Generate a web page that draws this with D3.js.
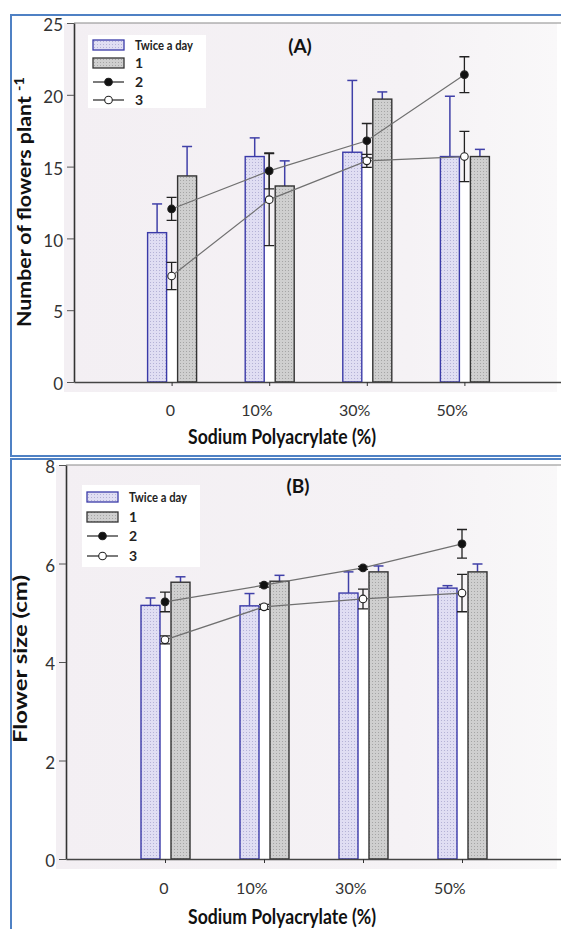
<!DOCTYPE html>
<html>
<head>
<meta charset="utf-8">
<script src="https://cdn.jsdelivr.net/npm/d3@7"></script>
<style>
body { margin: 0; background: #fff; }
svg { display: block; font-family: Lato, "Open Sans", sans-serif; }
</style>
</head>
<body>
<svg id="chart" width="561" height="929"></svg>
<script>
const categories = ["0", "10%", "30%", "50%"];
const legendNames = ["Twice a day", "1", "2", "3"];

// (A) number of flowers per plant
const flowersTwice = [10.4, 15.7, 16.0, 15.7];
const flowersTwiceErr = [2.0, 1.3, 5.0, 4.2];
const flowersOne = [14.35, 13.65, 19.7, 15.7];
const flowersOneErr = [2.05, 1.75, 0.5, 0.5];
const flowersTwo = [12.05, 14.7, 16.8, 21.4];
const flowersTwoErr = [0.8, 1.25, 1.2, 1.25];
const flowersThree = [7.38, 12.7, 15.4, 15.7];
const flowersThreeErr = [0.95, 3.2, 0.45, 1.75];
const flowersTicks = [0, 5, 10, 15, 20, 25];

// (B) flower size (cm)
const sizeTwice = [5.15, 5.14, 5.4, 5.5];
const sizeTwiceErr = [0.15, 0.25, 0.43, 0.05];
const sizeOne = [5.62, 5.64, 5.83, 5.83];
const sizeOneErr = [0.11, 0.12, 0.12, 0.16];
const sizeTwo = [5.22, 5.56, 5.91, 6.4];
const sizeTwoErr = [0.2, 0.04, 0.03, 0.29];
const sizeThree = [4.45, 5.12, 5.28, 5.4];
const sizeThreeErr = [0.08, 0.05, 0.2, 0.38];
const sizeTicks = [0, 2, 4, 6, 8];

const svg = d3.select("#chart");
const defs = svg.append("defs");

function dotPattern(id, base, dot) {
    const p = defs.append("pattern").attr("id", id)
        .attr("width", 3).attr("height", 3)
        .attr("patternUnits", "userSpaceOnUse");
    p.append("rect").attr("width", 3).attr("height", 3).attr("fill", base);
    p.append("rect").attr("width", 1).attr("height", 1).attr("fill", dot);
}
dotPattern("dotBlue", "#e0def3", "#b4b2d6");
dotPattern("dotGrey", "#cfcfcf", "#a5a5a5");

const bgGrad = defs.append("linearGradient").attr("id", "bgGrad");
bgGrad.append("stop").attr("offset", "0%").attr("stop-color", "#f3eff3");
bgGrad.append("stop").attr("offset", "70%").attr("stop-color", "#f5f2f5");
bgGrad.append("stop").attr("offset", "100%").attr("stop-color", "#f9f8f9");

const blueBorder = "#4f81c4";

function drawPanel(p) {
    const g = svg.append("g");

    // panel frame
    g.append("rect")
        .attr("x", 11).attr("y", p.boxTop)
        .attr("width", 570).attr("height", p.boxBottom - p.boxTop)
        .attr("fill", "#fff").attr("stroke", blueBorder).attr("stroke-width", 2);

    const x = d3.scaleLinear().domain([0, 5]).range([p.left, p.right]);
    const y = d3.scaleLinear().domain(p.yDomain).range([p.bottom, p.top]);

    // plot background
    g.append("rect")
        .attr("x", p.left - 10).attr("y", p.top)
        .attr("width", 557 - p.left + 10).attr("height", p.bottom - p.top + 10)
        .attr("fill", "url(#bgGrad)");

    // frame line at top
    g.append("line")
        .attr("x1", p.left).attr("x2", 561)
        .attr("y1", p.top).attr("y2", p.top)
        .attr("stroke", "#8a8a8a").attr("stroke-width", 1.2);

    const idx = d3.range(categories.length);
    const cx = i => x(i + 1);

    // white gap behind the point series
    g.selectAll(".gap").data(idx).enter().append("rect")
        .attr("x", i => cx(i) - 5).attr("width", 11)
        .attr("y", i => y(p.three[i] - p.threeErr[i]))
        .attr("height", i => p.bottom - y(p.three[i] - p.threeErr[i]))
        .attr("fill", "#fff");

    // bars
    const barW = 19;
    const bars = [
        { vals: p.twice, errs: p.twiceErr, off: -24, fill: "url(#dotBlue)", stroke: "#3a3aa8" },
        { vals: p.one, errs: p.oneErr, off: 6, fill: "url(#dotGrey)", stroke: "#333" }
    ];
    bars.forEach(function(b) {
        g.selectAll(null).data(idx).enter().append("line")
            .attr("x1", i => cx(i) + b.off + barW / 2).attr("x2", i => cx(i) + b.off + barW / 2)
            .attr("y1", i => y(b.vals[i])).attr("y2", i => y(b.vals[i] + b.errs[i]))
            .attr("stroke", "#4040a8").attr("stroke-width", 1.5);
        g.selectAll(null).data(idx).enter().append("line")
            .attr("x1", i => cx(i) + b.off + barW / 2 - 5).attr("x2", i => cx(i) + b.off + barW / 2 + 5)
            .attr("y1", i => y(b.vals[i] + b.errs[i])).attr("y2", i => y(b.vals[i] + b.errs[i]))
            .attr("stroke", "#4040a8").attr("stroke-width", 1.5);
        g.selectAll(null).data(idx).enter().append("rect")
            .attr("x", i => cx(i) + b.off).attr("width", barW)
            .attr("y", i => y(b.vals[i]))
            .attr("height", i => p.bottom - y(b.vals[i]))
            .attr("fill", b.fill).attr("stroke", b.stroke).attr("stroke-width", 1.4);
    });

    // point series with error bars
    const pts = [
        { vals: p.two, errs: p.twoErr, fill: "#111" },
        { vals: p.three, errs: p.threeErr, fill: "#fff" }
    ];
    pts.forEach(function(s) {
        g.selectAll(null).data(idx).enter().append("path")
            .attr("d", function(i) {
                const hi = y(s.vals[i] + s.errs[i]), lo = y(s.vals[i] - s.errs[i]), c = cx(i);
                return "M" + (c - 5) + "," + hi + "H" + (c + 5) + "M" + c + "," + hi + "V" + lo +
                    "M" + (c - 5) + "," + lo + "H" + (c + 5);
            })
            .attr("fill", "none").attr("stroke", "#222").attr("stroke-width", 1.3);
    });
    pts.forEach(function(s) {
        g.append("path")
            .datum(idx)
            .attr("d", d3.line().x(i => cx(i)).y(i => y(s.vals[i])))
            .attr("fill", "none").attr("stroke", "#707070").attr("stroke-width", 1.2);
    });
    pts.forEach(function(s) {
        g.selectAll(null).data(idx).enter().append("circle")
            .attr("cx", i => cx(i)).attr("cy", i => y(s.vals[i])).attr("r", 3.8)
            .attr("fill", s.fill).attr("stroke", "#222").attr("stroke-width", 1.1);
    });

    // axes
    const yAxis = g.append("g")
        .attr("transform", "translate(" + p.left + ",0)")
        .call(d3.axisLeft(y).tickValues(p.ticks).tickSize(7).tickSizeOuter(0).tickPadding(4));
    yAxis.select(".domain").attr("stroke", "#333").attr("stroke-width", 1.6);
    yAxis.selectAll(".tick line").attr("stroke", "#555");
    yAxis.selectAll(".tick text")
        .attr("font-size", 17).attr("fill", "#333").attr("dy", "0.45em")
        .attr("font-family", "Lato, sans-serif");

    const xAxis = g.append("g")
        .attr("transform", "translate(0," + p.bottom + ")")
        .call(d3.axisBottom(x).tickValues([1, 2, 3, 4])
            .tickFormat(v => categories[v - 1]).tickSize(4).tickSizeOuter(0));
    xAxis.select(".domain").attr("stroke", "#444").attr("stroke-width", 1.6);
    xAxis.selectAll(".tick line").attr("stroke", "#333");
    xAxis.selectAll(".tick text")
        .attr("font-size", 16).attr("fill", "#333")
        .attr("text-anchor", "end").attr("dx", 3)
        .attr("y", p.labelY).attr("dy", 0)
        .attr("font-family", "Lato, sans-serif");

    // axis titles
    g.append("text")
        .attr("x", 282).attr("y", p.xTitleY)
        .attr("text-anchor", "middle")
        .attr("font-size", 21).attr("font-weight", "bold").attr("fill", "#111")
        .attr("textLength", 188).attr("lengthAdjust", "spacingAndGlyphs")
        .text("Sodium Polyacrylate (%)");

    const yt = g.append("text")
        .attr("transform", "translate(" + p.yTitleX + "," + p.yTitleY + ") rotate(-90)")
        .attr("text-anchor", "middle")
        .attr("font-size", 19).attr("font-weight", "bold").attr("fill", "#111")
        .attr("textLength", p.yTitleLen).attr("lengthAdjust", "spacingAndGlyphs");
    yt.append("tspan").text(p.yTitle);
    if (p.yTitleSup) {
        yt.append("tspan").attr("dy", -7).attr("font-size", 13).text(p.yTitleSup);
    }

    g.append("text")
        .attr("x", p.tagX).attr("y", p.tagY)
        .attr("text-anchor", "middle")
        .attr("font-size", 19).attr("font-weight", "bold").attr("fill", "#111")
        .text(p.tag);

    // legend
    const lg = g.append("g").attr("transform", "translate(" + p.legX + "," + p.legY + ")");
    lg.append("rect").attr("x", 0).attr("y", 0)
        .attr("width", 118).attr("height", p.legH).attr("fill", "#fff");
    const rowY = p.legRows;
    lg.append("rect").attr("x", 5).attr("y", rowY[0] - 5).attr("width", 31).attr("height", 10)
        .attr("fill", "url(#dotBlue)").attr("stroke", "#3a3aa8").attr("stroke-width", 1.3);
    lg.append("rect").attr("x", 5).attr("y", rowY[1] - 5).attr("width", 31).attr("height", 10)
        .attr("fill", "url(#dotGrey)").attr("stroke", "#333").attr("stroke-width", 1.3);
    [2, 3].forEach(function(k) {
        lg.append("line").attr("x1", 5).attr("x2", 36)
            .attr("y1", rowY[k]).attr("y2", rowY[k])
            .attr("stroke", "#333").attr("stroke-width", 1.3);
        lg.append("circle").attr("cx", 20.5).attr("cy", rowY[k]).attr("r", 3.8)
            .attr("fill", k === 2 ? "#111" : "#fff").attr("stroke", "#222").attr("stroke-width", 1.1);
    });
    lg.selectAll(".lt").data(legendNames).enter().append("text")
        .attr("x", 47).attr("y", (d, i) => rowY[i] + 5)
        .attr("font-size", 14).attr("font-weight", "bold").attr("fill", "#222")
        .attr("textLength", (d, i) => i === 0 ? 58 : null)
        .attr("lengthAdjust", "spacingAndGlyphs")
        .text(d => d);
}

drawPanel({
    boxTop: 15, boxBottom: 456,
    left: 74, right: 562, top: 23, bottom: 382,
    yDomain: [0, 25], ticks: flowersTicks,
    twice: flowersTwice, twiceErr: flowersTwiceErr,
    one: flowersOne, oneErr: flowersOneErr,
    two: flowersTwo, twoErr: flowersTwoErr,
    three: flowersThree, threeErr: flowersThreeErr,
    labelY: 34, xTitleY: 444,
    yTitle: "Number of flowers plant ", yTitleSup: "-1",
    yTitleX: 31, yTitleY: 202, yTitleLen: 250,
    tag: "(A)", tagX: 300, tagY: 53,
    legX: 88, legY: 35, legH: 73, legRows: [10, 28, 47, 65]
});

drawPanel({
    boxTop: 459, boxBottom: 940,
    left: 66, right: 561, top: 465, bottom: 859,
    yDomain: [0, 8], ticks: sizeTicks,
    twice: sizeTwice, twiceErr: sizeTwiceErr,
    one: sizeOne, oneErr: sizeOneErr,
    two: sizeTwo, twoErr: sizeTwoErr,
    three: sizeThree, threeErr: sizeThreeErr,
    labelY: 35, xTitleY: 924,
    yTitle: "Flower size (cm)", yTitleSup: null,
    yTitleX: 27, yTitleY: 659, yTitleLen: 168,
    tag: "(B)", tagX: 298, tagY: 493,
    legX: 82, legY: 485, legH: 82, legRows: [12, 32, 51, 71]
});
</script>
</body>
</html>
